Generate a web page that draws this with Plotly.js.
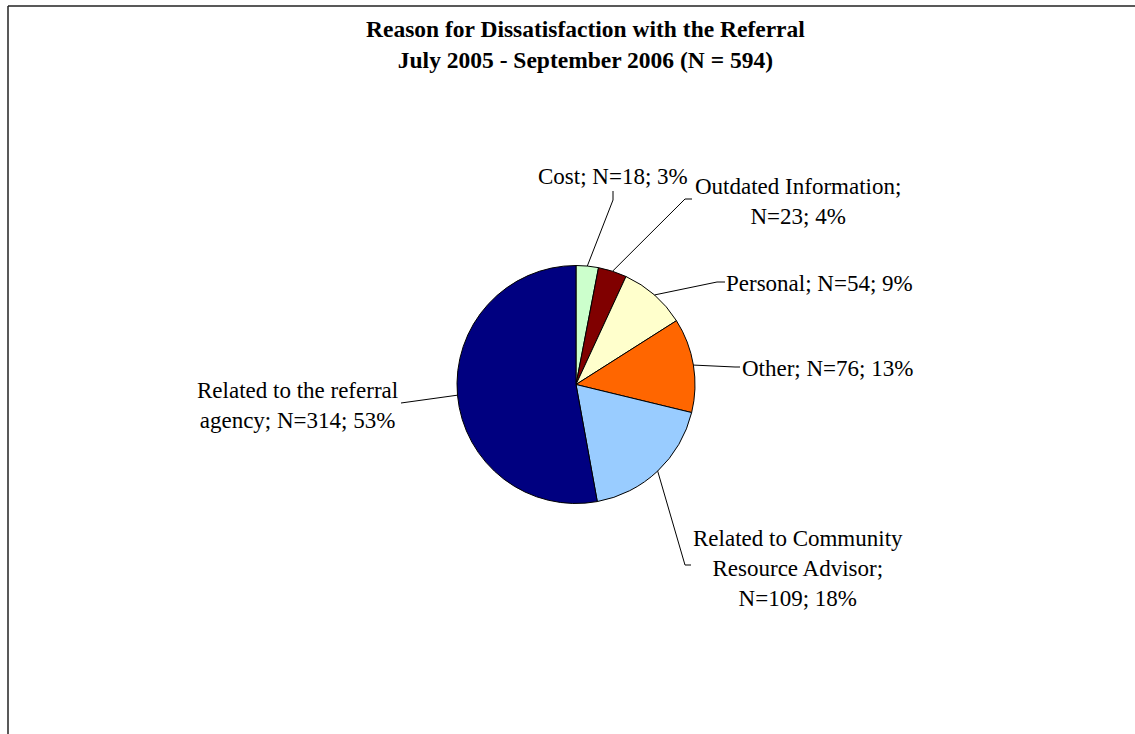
<!DOCTYPE html>
<html>
<head>
<meta charset="utf-8">
<script src="https://cdn.plot.ly/plotly-3.0.1.min.js"></script>
<style>html,body{margin:0;padding:0;background:#fff;}#chart{width:1135px;height:734px;}</style>
</head>
<body>
<div id="chart"></div>
<script>
// ---- data ----
const categories = ["Cost", "Outdated Information", "Personal", "Other",
  "Related to Community Resource Advisor", "Related to the referral agency"];
const counts = [18, 23, 54, 76, 109, 314];
const percents = [3, 4, 9, 13, 18, 53];
const labelTexts = [
  "Cost; N=18; 3%",
  "Outdated Information;<br>N=23; 4%",
  "Personal; N=54; 9%",
  "Other; N=76; 13%",
  "Related to Community<br>Resource Advisor;<br>N=109; 18%",
  "Related to the referral<br>agency; N=314; 53%"
];
const colors = ["#CCFFCC", "#800000", "#FFFFCC", "#FF6600", "#99CCFF", "#000080"];
const titleText = 'Reason for Dissatisfaction with the Referral<br>July 2005 - September 2006 (N = 594)';

// ---- layout (pixel geometry) ----
const W = 1135, H = 734;
const CX = 576, CY = 384.5, R = 119;
// label centre positions [x, y] in px
const labelPos = [[613, 176], [798, 201], [819, 283], [827, 368], [798, 568], [297, 405]];
// leader elbow + end points in px
const leaderPts = [
  [[613, 200], [613, 191]],
  [[685, 199], [692, 199]],
  [[717, 282], [725, 282]],
  [[735, 367], [740, 367]],
  [[685, 565], [691, 565]],
  [[401, 403], [401, 403]]
];
const serif = '"Liberation Serif", "Times New Roman", serif';

const px = x => x / W;
const py = y => 1 - y / H;
const total = counts.reduce((a, b) => a + b, 0);

const shapes = [];
const annotations = [];
let cum = 0;
counts.forEach((v, i) => {
  const f = (cum + v / 2) / total;
  cum += v;
  const th = 2 * Math.PI * f;
  const sx = CX + R * Math.sin(th), sy = CY - R * Math.cos(th);
  const [e, t] = leaderPts[i];
  shapes.push({
    type: 'path', xref: 'paper', yref: 'paper',
    path: `M ${px(sx)} ${py(sy)} L ${px(e[0])} ${py(e[1])} L ${px(t[0])} ${py(t[1])}`,
    line: {color: '#000', width: 1}
  });
  annotations.push({
    xref: 'paper', yref: 'paper', x: px(labelPos[i][0]), y: py(labelPos[i][1]),
    xanchor: 'center', yanchor: 'middle', align: 'center', showarrow: false,
    text: labelTexts[i],
    font: {family: serif, size: 23, color: '#000'}
  });
});

// title
annotations.push({
  xref: 'paper', yref: 'paper', x: px(585.5), y: py(44),
  xanchor: 'center', yanchor: 'middle', align: 'center', showarrow: false,
  text: titleText,
  font: {family: serif, size: 23.5, color: '#000', weight: 700}
});

// frame lines
shapes.push({type: 'line', xref: 'paper', yref: 'paper', x0: px(8), x1: px(8), y0: py(6), y1: py(740), line: {color: '#222', width: 1.5}});
shapes.push({type: 'line', xref: 'paper', yref: 'paper', x0: px(8), x1: px(1140), y0: py(6), y1: py(6), line: {color: '#222', width: 1.5}});

const trace = {
  type: 'pie',
  labels: categories,
  values: counts,
  sort: false,
  direction: 'clockwise',
  rotation: 0,
  textinfo: 'none',
  hoverinfo: 'label+value+percent',
  marker: {colors: colors, line: {color: '#000', width: 1}},
  domain: {x: [px(CX - R), px(CX + R)], y: [py(CY + R), py(CY - R)]},
  showlegend: false
};

const layout = {
  width: W, height: H,
  margin: {l: 0, r: 0, t: 0, b: 0},
  paper_bgcolor: '#fff',
  shapes: shapes,
  annotations: annotations,
  showlegend: false
};

Plotly.newPlot('chart', [trace], layout, {displayModeBar: false, staticPlot: true});
</script>
</body>
</html>
